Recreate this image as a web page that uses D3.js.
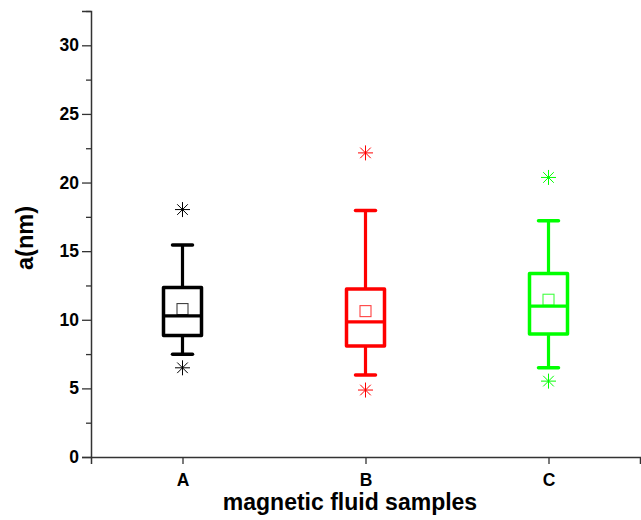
<!DOCTYPE html>
<html><head><meta charset="utf-8">
<script src="https://cdn.jsdelivr.net/npm/d3@7"></script>
<style>body{margin:0;background:#fff}svg{display:block}text{font-family:"Liberation Sans",Arial,sans-serif;font-weight:bold}</style>
</head><body><svg id="c" width="641" height="520"></svg>
<script>
const categories = ["A","B","C"];
const colors = ["#000000","#ff0000","#00ff00"];
const whiskerLow  = [7.48, 5.97, 6.5];
const q1          = [8.86, 8.08, 8.96];
const median      = [10.29, 9.85, 11.0];
const q3          = [12.36, 12.24, 13.38];
const whiskerHigh = [15.44, 17.97, 17.21];
const meanVals    = [10.78, 10.63, 11.46];
const outlierHigh = [18.03, 22.16, 20.37];
const outlierLow  = [6.5, 4.88, 5.53];
const yTicks = [0,5,10,15,20,25,30];
const yMinorTicks = [2.5,7.5,12.5,17.5,22.5,27.5,32.5];

const svg = d3.select("#c");
const x = d3.scaleLinear().domain([0,3]).range([91,640]);
const y = d3.scaleLinear().domain([0,32.5]).range([457,11]);
const axisColor = "#333";

// Y axis
const yAxis = d3.axisLeft(y).tickValues(yTicks).tickSize(9).tickPadding(3).tickFormat(d3.format("d"));
const gy = svg.append("g").attr("transform","translate(91,0)").call(yAxis);
gy.select(".domain").attr("stroke",axisColor).attr("stroke-width",1.5);
gy.selectAll(".tick line").attr("stroke",axisColor).attr("stroke-width",1.3);
gy.selectAll(".tick text").attr("font-size",17.5).attr("fill","#000").style("font-weight","bold");
const gym = svg.append("g").attr("transform","translate(91,0)").call(d3.axisLeft(y).tickValues(yMinorTicks).tickSize(5).tickFormat(""));
gym.select(".domain").remove();
gym.selectAll(".tick line").attr("stroke",axisColor).attr("stroke-width",1.3);

// X axis
const xAxis = d3.axisBottom(x).tickValues([0.5,1.5,2.5]).tickSize(7).tickPadding(10).tickFormat((d,i)=>categories[i]);
const gx = svg.append("g").attr("transform","translate(0,457)").call(xAxis);
gx.select(".domain").attr("stroke",axisColor).attr("stroke-width",1.5);
gx.selectAll(".tick line").attr("stroke",axisColor).attr("stroke-width",1.3);
gx.selectAll(".tick text").attr("font-size",17.5).attr("fill","#000").style("font-weight","bold");

// labels
svg.append("text").attr("x",350).attr("y",510).attr("text-anchor","middle").attr("font-size",23).text("magnetic fluid samples");
svg.append("text").attr("transform","translate(33,238) rotate(-90)").attr("text-anchor","middle").attr("font-size",23.5).text("a(nm)");

const boxW = 38, capW = 20, ms = 11;
function star(g, cx, cy, col){
  const r = 7.5;
  for (let k=0;k<4;k++){
    const a = k*Math.PI/4;
    g.append("line").attr("x1",cx-r*Math.cos(a)).attr("y1",cy-r*Math.sin(a))
      .attr("x2",cx+r*Math.cos(a)).attr("y2",cy+r*Math.sin(a))
      .attr("stroke",col).attr("stroke-width",1);
  }
}
categories.forEach((c,i)=>{
  const cx = x(i+0.5), col = colors[i];
  const g = svg.append("g");
  g.append("line").attr("x1",cx).attr("x2",cx).attr("y1",y(q3[i])).attr("y2",y(whiskerHigh[i])).attr("stroke",col).attr("stroke-width",3.2);
  g.append("line").attr("x1",cx).attr("x2",cx).attr("y1",y(q1[i])).attr("y2",y(whiskerLow[i])).attr("stroke",col).attr("stroke-width",3.2);
  [whiskerHigh[i], whiskerLow[i]].forEach(v=>{
    g.append("line").attr("x1",cx-capW/2).attr("x2",cx+capW/2).attr("y1",y(v)).attr("y2",y(v)).attr("stroke",col).attr("stroke-width",3.5).attr("stroke-linecap","round");
  });
  g.append("rect").attr("x",cx-boxW/2).attr("y",y(q3[i])).attr("width",boxW).attr("height",y(q1[i])-y(q3[i]))
    .attr("fill","none").attr("stroke",col).attr("stroke-width",3.5).attr("stroke-linejoin","round");
  g.append("line").attr("x1",cx-boxW/2).attr("x2",cx+boxW/2).attr("y1",y(median[i])).attr("y2",y(median[i])).attr("stroke",col).attr("stroke-width",3.2);
  g.append("rect").attr("x",cx-ms/2).attr("y",y(meanVals[i])-ms/2).attr("width",ms).attr("height",ms)
    .attr("fill","none").attr("stroke",col).attr("stroke-width",1.1).attr("opacity",0.75);
  star(g,cx,y(outlierHigh[i]),col);
  star(g,cx,y(outlierLow[i]),col);
});
</script></body></html>
